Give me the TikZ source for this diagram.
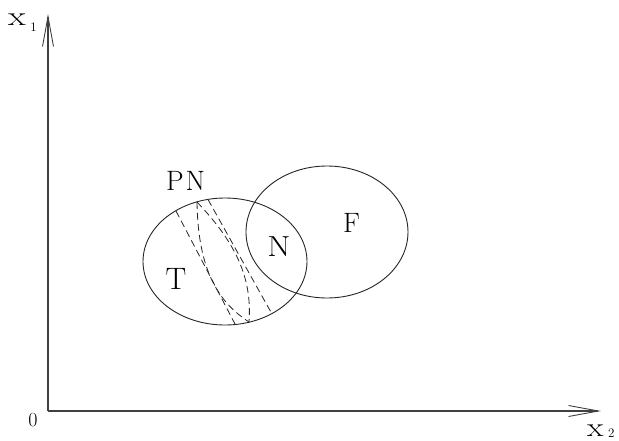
\documentclass[tikz,border=0pt]{standalone}
\usetikzlibrary{arrows.meta}
\begin{document}
\begin{tikzpicture}[x=1pt,y=-1pt,
  axis/.style={draw=black!75, line width=1.1pt, -{Straight Barb[length=30pt,width=11pt,line width=0.9pt]}},
  setline/.style={draw=black!85, line width=0.9pt},
  dashline/.style={draw=black!85, line width=0.8pt, dash pattern=on 7pt off 4pt},
  lbl/.style={inner sep=0pt, font=\fontsize{28}{30}\selectfont},
  axlbl/.style={inner sep=0pt, font=\fontsize{27}{28}\selectfont}]
  \useasboundingbox (0,0) rectangle (619,440);

  % axes
  \coordinate (O) at (48,411);
  \coordinate (ytop) at (48,14);
  \coordinate (xend) at (601,411);
  \draw[axis] (O) -- (ytop);
  \draw[axis] (O) -- (xend);
  \node[inner sep=0pt, font=\fontsize{20}{22}\selectfont] (zero) at (33,420) {0};
  \node[axlbl, anchor=base west] (xone) at (8,25)
    {\scalebox{1.35}[1]{x}\,\raisebox{-6pt}{\fontsize{13}{14}\selectfont 1}};
  \node[axlbl, anchor=base west] (xtwo) at (587,436)
    {\scalebox{1.25}[1]{x}\,\raisebox{-1pt}{\fontsize{13}{14}\selectfont 2}};

  % the two sets
  \draw[setline] (225,261.5) ellipse [x radius=82pt, y radius=63.5pt];
  \draw[setline] (327,232) ellipse [x radius=81pt, y radius=66pt];

  % dashed cuts through the left set
  \coordinate (A) at (197,202);
  \coordinate (B) at (249,322);
  \coordinate (L1a) at (176,211);
  \coordinate (L1b) at (235,324);
  \coordinate (L2a) at (208,199.5);
  \coordinate (L2b) at (272,314);
  \draw[dashline] (L1a) -- (L1b);
  \draw[dashline] (L2a) -- (L2b);
  \draw[dashline] (A) .. controls (198,265) and (215,300) .. (B);
  \draw[dashline] (A) .. controls (238,245) and (252,280) .. (B);

  % labels
  \node[lbl] (PN) at (185.5,180.5) {P\kern2pt N};
  \node[lbl, font=\fontsize{31}{32}\selectfont] (T) at (176,278.5) {T};
  \node[lbl, font=\fontsize{29}{30}\selectfont] (N) at (279,247) {\scalebox{1.15}[1]{N}};
  \node[lbl] (F) at (351.5,222.5) {F};
\end{tikzpicture}
\end{document}
